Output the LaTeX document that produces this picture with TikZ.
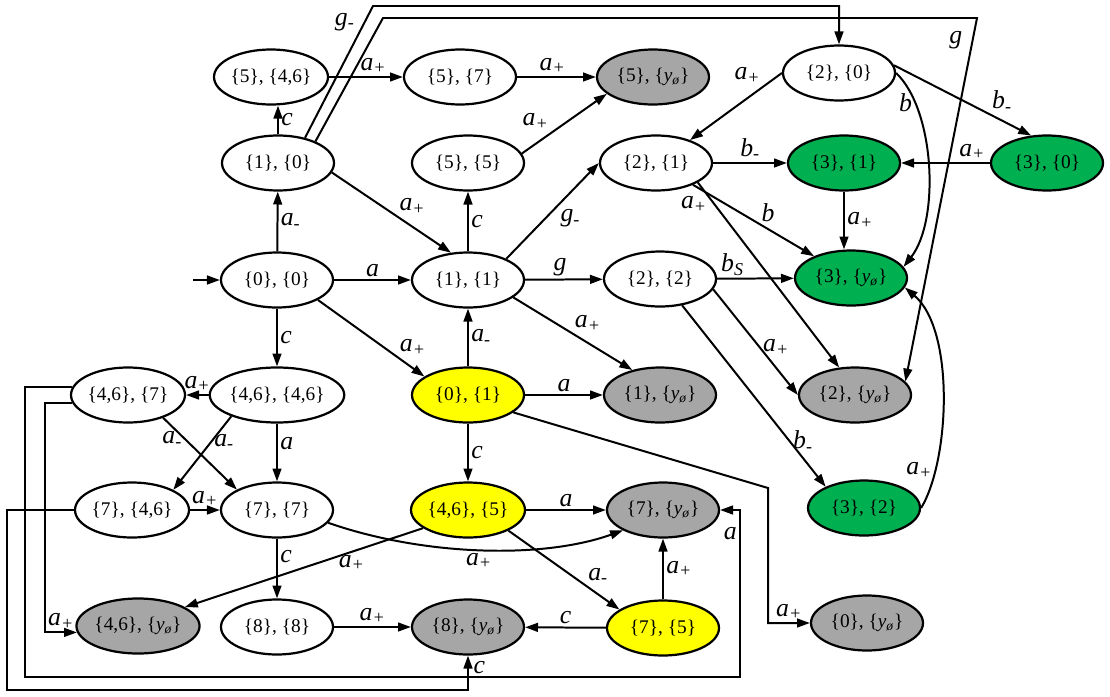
\documentclass[tikz,border=0pt]{standalone}
\usepackage{fontspec}
\setmainfont{Liberation Serif}
\usetikzlibrary{arrows.meta,shapes.geometric}
\definecolor{stgreen}{HTML}{00AF50}
\definecolor{stgray}{HTML}{A6A6A6}
\definecolor{styellow}{HTML}{FFFF00}
\newcommand{\elab}[2]{#1\textsubscript{#2}}
\newcommand{\ynull}{\textit{y}\textsubscript{\textit{ø}}}
\begin{document}
\begin{tikzpicture}[x=0.03cm,y=-0.03cm,
  st/.style={ellipse,draw,line width=1.9pt,minimum width=3.36cm,minimum height=1.65cm,inner sep=0pt,font=\fontsize{16.5}{19}\selectfont,fill=white},
  gr/.style={st,fill=stgreen},
  gy/.style={st,fill=stgray},
  ye/.style={st,fill=styellow},
  tr/.style={-{Triangle[length=11pt,width=7.5pt]},line width=1.7pt},
  lbl/.style={font=\fontsize{22}{25}\selectfont\itshape,inner sep=2pt}]
\useasboundingbox (0,0) rectangle (1110,697);
% nodes
\node[st] (n546) at (271,77) {\{5\}, \{4,6\}};
\node[st] (n57) at (460,77) {\{5\}, \{7\}};
\node[gy] (n5y) at (653,77) {\{5\}, \{\ynull\}};
\node[st] (n20) at (839,73) {\{2\}, \{0\}};
\node[st] (n10) at (278,163) {\{1\}, \{0\}};
\node[st] (n55) at (468,163) {\{5\}, \{5\}};
\node[st] (n21) at (656,163) {\{2\}, \{1\}};
\node[gr] (n31) at (844,163) {\{3\}, \{1\}};
\node[gr] (n30) at (1047,163) {\{3\}, \{0\}};
\node[st] (n00) at (277,280) {\{0\}, \{0\}};
\node[st] (n11) at (468,280) {\{1\}, \{1\}};
\node[st] (n22) at (660,279) {\{2\}, \{2\}};
\node[gr] (n3y) at (851,278) {\{3\}, \{\ynull\}};
\node[st] (n4646) at (277,395) {\{4,6\}, \{4,6\}};
\node[st] (n467) at (128,395) {\{4,6\}, \{7\}};
\node[ye] (n01) at (468,395) {\{0\}, \{1\}};
\node[gy] (n1y) at (660,395) {\{1\}, \{\ynull\}};
\node[gy] (n2y) at (855,395) {\{2\}, \{\ynull\}};
\node[st] (n746) at (132,510) {\{7\}, \{4,6\}};
\node[st] (n77) at (277,510) {\{7\}, \{7\}};
\node[ye] (n465) at (468,510) {\{4,6\}, \{5\}};
\node[gy] (n7y) at (663,510) {\{7\}, \{\ynull\}};
\node[gr] (n32) at (864,508) {\{3\}, \{2\}};
\node[gy] (n46y) at (138,626) {\{4,6\}, \{\ynull\}};
\node[st] (n88) at (277,627) {\{8\}, \{8\}};
\node[gy] (n8y) at (468,627) {\{8\}, \{\ynull\}};
\node[ye] (n75) at (663,628) {\{7\}, \{5\}};
\node[gy] (n0y) at (867,623) {\{0\}, \{\ynull\}};
\coordinate (init) at (193,280);
% edges
\draw[tr] (init) -- (n00);
\draw[tr] (n00) -- node[lbl,right]{\elab{a}{-}} (n10);
\draw[tr] (n10.north) -- node[lbl,right]{c} (n10.north |- n546.south);
\draw[tr] (n546) -- node[lbl,above,pos=.6]{\elab{a}{+}} (n57);
\draw[tr] (n57) -- node[lbl,above,pos=.45]{\elab{a}{+}} (n5y);
\draw[tr] (n55.10) -- node[lbl,above left,pos=.35]{\elab{a}{+}} (n5y.200);
\draw[tr] (n11) -- node[lbl,right]{c} (n55);
\draw[tr] (n10.-10) -- node[lbl,above right,pos=.55,inner sep=1pt]{\elab{a}{+}} (n11.122);
\draw[tr] (n00) -- node[lbl,above]{a} (n11);
\draw[tr] (n00) -- node[lbl,right]{c} (n4646);
\draw[tr] (n00.-26) -- node[lbl,above right,pos=.75,inner sep=1pt]{\elab{a}{+}} (n01.157);
\draw[tr] (n01) -- node[lbl,right]{\elab{a}{-}} (n11);
\draw[tr] (n11.29) -- node[lbl,below right,pos=.55]{\elab{g}{-}} (n21.west);
\draw[tr] (n11) -- node[lbl,above,pos=.45]{g} (n22);
\draw[tr] (n11.-21) -- node[lbl,above right,pos=.5,inner sep=1pt]{\elab{a}{+}} (n1y.138);
\draw[tr] (n01) -- node[lbl,above]{a} (n1y);
\draw[tr] (n01.-21) -- (768,488) |- node[lbl,above,pos=.75]{\elab{a}{+}} (n0y.west);
\draw[tr] (n01) -- node[lbl,right]{c} (n465);
\draw[tr] (n465) -- node[lbl,above]{a} (n7y);
\draw[tr] (n465.202) -- node[lbl,below,pos=.3]{\elab{a}{+}} (n46y.22);
\draw[tr] (n77.-14) .. controls (420,555) and (540,560) .. node[lbl,below]{\elab{a}{+}} (n7y.207);
\draw[tr] (n465.-27) -- node[lbl,above right,pos=.7,inner sep=1pt]{\elab{a}{-}} (n75.157);
\draw[tr] (n75) -- node[lbl,right]{\elab{a}{+}} (n7y);
\draw[tr] (n75) -- node[lbl,above]{c} (n8y);
\draw[tr] (n88) -- node[lbl,above]{\elab{a}{+}} (n8y);
\draw[tr] (n77) -- node[lbl,right,pos=.3]{c} (n88);
\draw[tr] (n4646) -- node[lbl,right,pos=.35]{a} (n77);
\draw[tr] (n4646) -- node[lbl,above]{\elab{a}{+}} (n467);
\draw[tr] (n4646.205) -- node[lbl,right,pos=.35]{\elab{a}{-}} (n746.26);
\draw[tr] (n467.-33) -- node[lbl,left,pos=.3]{\elab{a}{-}} (n77.153);
\draw[tr] (n746) -- node[lbl,above]{\elab{a}{+}} (n77);
\draw[tr] (n467.188) -- ++(-27,0) |- node[lbl,above,pos=.75]{\elab{a}{+}} (n46y.186);
\draw[tr] (n467.172) -| (25,677) -| node[lbl,left,pos=.93]{a} (740,510) -- (n7y.east);
\draw[tr] (n746.west) -| (7,690) -| node[lbl,right=2pt,pos=.83]{c} (n8y.south);
\draw[tr] (n10.43) -- node[lbl,left=6pt,pos=.88]{\elab{g}{-}} (373,6) -| (n20.north);
\draw[tr] (n10.30) -- (383,18) -- (977,18) -- node[lbl,left=6pt,pos=.06]{g} (n2y.15);
\draw[tr] (n20.west) -- node[lbl,above left,pos=.2]{\elab{a}{+}} (n21.34);
\draw[tr] (n20.8) -- node[lbl,above right,pos=.7,inner sep=1pt]{\elab{b}{-}} (n30.120);
\draw[tr] (n20.east) .. controls (935,110) and (940,220) .. node[lbl,left,pos=.2]{b} (n3y.12);
\draw[tr] (n30) -- node[lbl,above,pos=.2]{\elab{a}{+}} (n31);
\draw[tr] (n21) -- node[lbl,above]{\elab{b}{-}} (n31);
\draw[tr] (n21) -- node[lbl,above right,pos=.55,inner sep=1pt]{b} (n3y);
\draw[tr] (n21.-25) -- node[lbl,left=4pt,pos=.12]{\elab{a}{+}} (n2y.120);
\draw[tr] (n31.south) -- node[lbl,right]{\elab{a}{+}} (n31.south |- n3y.north);
\draw[tr] (n22) -- node[lbl,above,pos=.2]{\elab{b}{S}} (n3y);
\draw[tr] (n22.-11) -- node[lbl,right,pos=.55]{\elab{a}{+}} (n2y.west);
\draw[tr] (n22.-50) -- node[lbl,right,pos=.75]{\elab{b}{-}} (n32.151);
\draw[tr] (n32.east) .. controls (950,460) and (955,330) .. node[lbl,left,pos=.2]{\elab{a}{+}} (n3y.-10);
\end{tikzpicture}
\end{document}
